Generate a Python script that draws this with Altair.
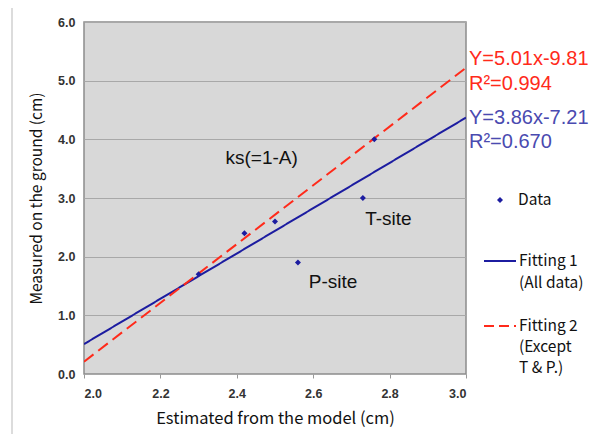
import altair as alt
import pandas as pd

# Data points
est = [2.30, 2.42, 2.50, 2.56, 2.73, 2.76]
meas = [1.70, 2.40, 2.60, 1.90, 3.00, 4.00]

# Fit line endpoints (x = 2.0 and 3.0)
fit_x = [2.0, 3.0]
fit1_y = [0.51, 4.37]   # Y=3.86x-7.21 (all data)
fit2_y = [0.21, 5.22]   # Y=5.01x-9.81 (except T & P)

# Annotation labels
ann_text = ["ks(=1-A)", "T-site", "P-site"]
ann_x = [2.465, 2.797, 2.652]
ann_y = [3.69, 2.64, 1.57]

eq_red = ["Y=5.01x-9.81", "R²=0.994"]
eq_blue = ["Y=3.86x-7.21", "R²=0.670"]

FONT = "Liberation Sans"
JFONT = "Noto Sans CJK JP"
BLUE = "#1c1ca0"
RED = "#ff2a1a"

W, H = 382, 352

xs = alt.Scale(domain=[2.0, 3.0], nice=False, zero=False)
ys = alt.Scale(domain=[0.0, 6.0], nice=False)

pts_df = pd.DataFrame({"x": est, "y": meas})
fit_df = pd.DataFrame({
    "x": fit_x + fit_x,
    "y": fit1_y + fit2_y,
    "fit": ["Fitting 1"] * 2 + ["Fitting 2"] * 2,
})

xenc = alt.X("x:Q", scale=xs, axis=alt.Axis(
    title="Estimated from the model (cm)", values=[2.0, 2.2, 2.4, 2.6, 2.8, 3.0],
    format=".1f", grid=False, titleFontSize=16.5, titleFont=JFONT, titleFontWeight="normal",
    titlePadding=11, labelFontSize=12.5, labelFont=FONT, labelFontWeight="bold",
    labelPadding=9, tickSize=4, labelColor="#333", titleColor="#111"))
yenc = alt.Y("y:Q", scale=ys, axis=alt.Axis(
    title="Measured on the ground (cm)", values=[0, 1, 2, 3, 4, 5, 6], format=".1f",
    grid=True, gridColor="#a8a8a8", titleFontSize=15.5, titleFont=JFONT,
    titleFontWeight="normal", titlePadding=13, labelFontSize=12.5, labelFont=FONT,
    labelFontWeight="bold", labelPadding=9, tickSize=0, labelColor="#333", titleColor="#111"))

border = alt.Chart(pd.DataFrame({"a": [0]})).mark_rect(
    fill=None, stroke="#dcdcdc", strokeWidth=2, clip=False
).encode(x=alt.value(-72), x2=alt.value(523), y=alt.value(-17), y2=alt.value(440))

lines = alt.Chart(fit_df).mark_line(clip=True).encode(
    x=xenc, y=yenc,
    color=alt.Color("fit:N", scale=alt.Scale(domain=["Fitting 1", "Fitting 2"], range=[BLUE, RED]), legend=None),
    strokeDash=alt.StrokeDash("fit:N", scale=alt.Scale(domain=["Fitting 1", "Fitting 2"], range=[[1, 0], [12, 6]]), legend=None),
    strokeWidth=alt.value(2),
)

pts = alt.Chart(pts_df).mark_point(shape="diamond", filled=True, size=36, color=BLUE, opacity=1).encode(
    x=alt.X("x:Q", scale=xs), y=alt.Y("y:Q", scale=ys))

ann_df = pd.DataFrame({"t": ann_text, "x": ann_x, "y": ann_y})
ann = alt.Chart(ann_df).mark_text(font=FONT, fontSize=19, color="#111", align="center", baseline="middle").encode(
    x=alt.X("x:Q", scale=xs), y=alt.Y("y:Q", scale=ys), text="t:N")

eq_df = pd.DataFrame({
    "t": eq_red + eq_blue,
    "y": [5.37, 4.94, 4.36, 3.96],
    "c": [RED, RED, "#4a4ab0", "#4a4ab0"],
})
eqs = alt.Chart(eq_df).mark_text(font=FONT, fontSize=20, align="left", baseline="middle", clip=False).encode(
    x=alt.value(W + 3), y=alt.Y("y:Q", scale=ys), text="t:N", color=alt.Color("c:N", scale=None))

# Manual legend
leg_pt = alt.Chart(pd.DataFrame({"a": [0]})).mark_point(shape="diamond", filled=True, size=36, color=BLUE, opacity=1).encode(
    x=alt.value(416), y=alt.value(178))
leg_l1 = alt.Chart(pd.DataFrame({"a": [0]})).mark_rule(color=BLUE, strokeWidth=2).encode(
    x=alt.value(400), x2=alt.value(432), y=alt.value(239))
leg_l2 = alt.Chart(pd.DataFrame({"a": [0]})).mark_rule(color=RED, strokeWidth=2, strokeDash=[10, 5]).encode(
    x=alt.value(400), x2=alt.value(432), y=alt.value(304))
leg_txt_df = pd.DataFrame({
    "t": ["Data", "Fitting 1", " (All data)", "Fitting 2", "(Except", "T & P.)"],
    "px": [434, 435, 435, 435, 435, 435],
    "py": [178, 239, 261, 304, 325, 346],
})
leg_txt = alt.Chart(leg_txt_df).mark_text(font=JFONT, fontSize=15.5, align="left", baseline="middle", color="#111").encode(
    x=alt.X("px:Q", scale=None), y=alt.Y("py:Q", scale=None), text="t:N")

chart = alt.layer(border, lines, pts, ann, eqs, leg_pt, leg_l1, leg_l2, leg_txt).properties(
    width=W, height=H,
    autosize=alt.AutoSizeParams(type="none"),
    padding={"left": 76, "top": 14, "right": 134, "bottom": 60},
    background="white",
).configure_view(fill="#d8d8d8", stroke="#8c8c8c", strokeWidth=1.5).configure_axis(
    domain=False, tickColor="#999"
)

chart.save("out.html", embed_options={"renderer": "svg", "actions": False})
